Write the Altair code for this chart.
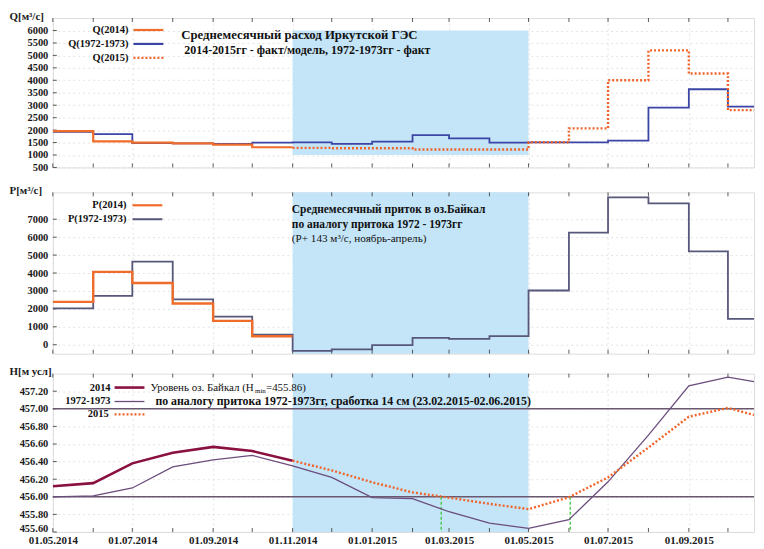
import altair as alt
import pandas as pd

FONT = "Liberation Serif"
W = 704
H1, H2, H3 = 150, 162, 159

# ---------------- data ----------------
x_start = "2014-05-01"
x_end = "2015-10-21"
band_start = "2014-11-01"
band_end = "2015-05-01"

months_all = ["2014-05-01", "2014-06-01", "2014-07-01", "2014-08-01", "2014-09-01", "2014-10-01",
              "2014-11-01", "2014-12-01", "2015-01-01", "2015-02-01", "2015-03-01", "2015-04-01",
              "2015-05-01", "2015-06-01", "2015-07-01", "2015-08-01", "2015-09-01", "2015-10-01"]
label_dates = ["2014-05-01", "2014-07-01", "2014-09-01", "2014-11-01", "2015-01-01",
               "2015-03-01", "2015-05-01", "2015-07-01", "2015-09-01"]

# Q: monthly mean discharge (step values, last entry closes the last step)
q2014_dates = ["2014-05-01", "2014-06-01", "2014-07-01", "2014-08-01", "2014-09-01", "2014-10-01", "2014-11-01"]
q2014_vals = [1960, 1550, 1500, 1470, 1420, 1310, 1310]
q7273_dates = months_all + [x_end]
q7273_vals = [1930, 1840, 1480, 1470, 1450, 1500, 1510, 1445, 1535, 1800, 1670, 1500,
              1510, 1510, 1575, 2900, 3640, 2940, 2940]
q2015_dates = months_all[6:] + [x_end]
q2015_vals = [1285, 1270, 1270, 1220, 1220, 1220, 1510, 2070, 4000, 5200, 4270, 2800, 2800]

# P: monthly mean inflow
p2014_dates = ["2014-05-01", "2014-06-01", "2014-07-01", "2014-08-01", "2014-09-01", "2014-10-01", "2014-11-01"]
p2014_vals = [2390, 4065, 3445, 2300, 1330, 475, 475]
p7273_dates = months_all + [x_end]
p7273_vals = [2025, 2720, 4630, 2530, 1570, 565, -345, -255, -20, 380, 330, 475,
              3025, 6250, 8220, 7890, 5210, 1440, 1440]

# H: lake level
h2014_dates = ["2014-05-01", "2014-06-01", "2014-07-01", "2014-08-01", "2014-09-01", "2014-10-01", "2014-11-01"]
h2014_vals = [456.12, 456.155, 456.38, 456.50, 456.567, 456.52, 456.41]
h7273_dates = months_all + [x_end]
h7273_vals = [456.00, 456.01, 456.10, 456.34, 456.42, 456.47, 456.35, 456.22, 455.99, 455.98,
              455.83, 455.70, 455.64, 455.74, 456.17, 456.70, 457.26, 457.36, 457.31]
h2015_dates = months_all[6:] + [x_end]
h2015_vals = [456.41, 456.30, 456.165, 456.05, 455.99, 455.92, 455.86, 455.995, 456.22,
              456.56, 456.91, 457.01, 456.93]
h_ref_lines = [456.0, 457.0]
green_dates = ["2015-02-23", "2015-06-02"]

q_ticks = [500, 1000, 1500, 2000, 2500, 3000, 3500, 4000, 4500, 5000, 5500, 6000]
p_ticks = [0, 1000, 2000, 3000, 4000, 5000, 6000, 7000]
h_ticks = [455.6, 455.8, 456.0, 456.2, 456.4, 456.6, 456.8, 457.0, 457.2]

# colours
C_BAND = "#c4e4f7"
C_ORANGE = "#ef6c2a"
C_BLUE = "#3b45a5"
C_DOT = "#f0642a"
C_GRAYP = "#57577c"
C_MAROON = "#8a1040"
C_PURP = "#6b4d7d"
C_HLINE = "#6a5870"
C_GREEN = "#3cc83c"


def ms(d):
    return int(pd.Timestamp(d, tz="UTC").value // 10**6)


xscale = alt.Scale(type="utc", domain=[ms(x_start), ms(x_end)], nice=False)
dummy = pd.DataFrame({"k": [0]})


def xaxis(labels):
    return alt.Axis(values=[ms(d) for d in label_dates], labels=labels, format="%d.%m.%Y",
                    ticks=False, domain=False, grid=True, gridColor="#d6d6d6",
                    gridDash=[2, 3], gridWidth=0.7, labelFont=FONT, labelFontSize=11,
                    labelFontWeight="bold", labelColor="#1a1a1a", labelPadding=3,
                    labelFlush=False, labelOverlap=False, title=None)


def yaxis(title, values, fmt, low):
    return alt.Axis(values=values, format=fmt, title=title, titleAngle=0, titleAlign="left",
                    titleBaseline="alphabetic", titleX=-44, titleY=1, titleFont=FONT,
                    titleFontSize=11, titleFontWeight="bold", titleColor="#1a1a1a",
                    labelFont=FONT, labelFontSize=10.5, labelFontWeight="bold",
                    labelColor="#1a1a1a", labelPadding=5, labelOverlap=False, labelFlush=False,
                    labelBaseline={"condition": {"test": f"datum.value <= {low}", "value": "alphabetic"},
                                   "value": "middle"},
                    ticks=False, domain=False, grid=True, gridColor="#d6d6d6",
                    gridDash=[2, 3], gridWidth=0.7)


def make_xy(labels, ytitle, yvals, ydomain, fmt, low):
    ax = xaxis(labels)
    ay = yaxis(ytitle, yvals, fmt, low)
    ys = alt.Scale(domain=ydomain, nice=False, zero=False)

    def X(f="date"):
        return alt.X(f + ":T", scale=xscale, axis=ax)

    def Y(f="v"):
        return alt.Y(f + ":Q", scale=ys, axis=ay)

    return X, Y


def series(X, Y, dates, vals, color, width, dash=None, interp="step-after"):
    df = pd.DataFrame({"date": dates, "v": vals})
    kw = dict(color=color, strokeWidth=width, interpolate=interp, clip=True)
    if dash:
        kw["strokeDash"] = dash
    return alt.Chart(df).mark_line(**kw).encode(x=X(), y=Y())


def text(s, x, y, size=11, weight="bold", align="left"):
    return alt.Chart(dummy).mark_text(text=s, font=FONT, fontSize=size, fontWeight=weight,
                                      align=align, baseline="middle", color="#111").encode(
        x=alt.value(x), y=alt.value(y))


def label(s, x, y):
    return text(s, x, y, size=10.5, align="right")


def sample(x1, x2, y, color, width, dash=None):
    kw = dict(color=color, strokeWidth=width)
    if dash:
        kw["strokeDash"] = dash
    return alt.Chart(dummy).mark_rule(**kw).encode(x=alt.value(x1), x2=alt.value(x2), y=alt.value(y))


def tick_layers(X, Y, h, yvals):
    tdf = pd.DataFrame({"date": months_all})
    ydf = pd.DataFrame({"v": yvals})
    bot = alt.Chart(tdf).mark_rule(color="#333", strokeWidth=0.8).encode(
        x=X(), y=alt.value(h), y2=alt.value(h - 4))
    top = alt.Chart(tdf).mark_rule(color="#333", strokeWidth=0.8).encode(
        x=X(), y=alt.value(0), y2=alt.value(4))
    left = alt.Chart(ydf).mark_rule(color="#333", strokeWidth=0.8).encode(
        y=Y(), x=alt.value(0), x2=alt.value(4))
    return [bot, top, left]


# ---------------- panel 1 : Q ----------------
X1, Y1 = make_xy(False, "Q[м³/с]", q_ticks, [500, 6500], "d", 0)
band1 = alt.Chart(pd.DataFrame({"s": [band_start], "e": [band_end], "y1": [1000], "y2": [6000]})).mark_rect(
    color=C_BAND).encode(x=X1("s"), x2="e:T", y=Y1("y1"), y2="y2:Q")
p1 = alt.layer(
    band1,
    *tick_layers(X1, Y1, H1, q_ticks),
    series(X1, Y1, q7273_dates, q7273_vals, C_BLUE, 1.8),
    series(X1, Y1, q2014_dates, q2014_vals, C_ORANGE, 2.2),
    series(X1, Y1, q2015_dates, q2015_vals, C_DOT, 2.4, dash=[2, 2]),
    label("Q(2014)", 76, 12), label("Q(1972-1973)", 76, 26), label("Q(2015)", 76, 40),
    sample(81, 111, 12, C_ORANGE, 2.2), sample(81, 111, 26, C_BLUE, 2.2),
    sample(81, 111, 40, C_DOT, 2.2, [2, 2]),
    text("Среднемесячный расход Иркутской ГЭС", 129, 17, size=12.8),
    text("2014-2015гг - факт/модель, 1972-1973гг - факт", 132, 32, size=12),
).properties(width=W, height=H1)

# ---------------- panel 2 : P ----------------
X2, Y2 = make_xy(False, "P[м³/с]", p_ticks, [-500, 8500], "d", -1000)
band2 = alt.Chart(pd.DataFrame({"s": [band_start], "e": [band_end]})).mark_rect(
    color=C_BAND).encode(x=X2("s"), x2="e:T", y=alt.value(0), y2=alt.value(H2))
p2 = alt.layer(
    band2,
    *tick_layers(X2, Y2, H2, p_ticks),
    series(X2, Y2, p7273_dates, p7273_vals, C_GRAYP, 1.8),
    series(X2, Y2, p2014_dates, p2014_vals, C_ORANGE, 2.4),
    label("P(2014)", 74, 13), label("P(1972-1973)", 74, 27),
    sample(80, 110, 13, C_ORANGE, 2.2), sample(80, 110, 27, C_GRAYP, 2.0),
    text("Среднемесячный приток в оз.Байкал", 240, 18, size=11.5),
    text(" по аналогу притока 1972 - 1973гг", 240, 33, size=11.5),
    text("(P+ 143 м³/с, ноябрь-апрель)", 240, 47, size=11.2, weight="normal"),
).properties(width=W, height=H2)

# ---------------- panel 3 : H ----------------
X3, Y3 = make_xy(True, "H[м усл]", h_ticks, [455.6, 457.4], ".2f", 455.61)
band3 = alt.Chart(pd.DataFrame({"s": [band_start], "e": [band_end]})).mark_rect(
    color=C_BAND).encode(x=X3("s"), x2="e:T", y=alt.value(0), y2=alt.value(H3))
hl = alt.Chart(pd.DataFrame({"v": h_ref_lines})).mark_rule(color=C_HLINE, strokeWidth=1.6).encode(y=Y3())
gl = alt.Chart(pd.DataFrame({"date": green_dates, "v": [456.0, 456.0], "v0": [455.6, 455.6]})).mark_rule(
    color=C_GREEN, strokeWidth=1.3, strokeDash=[3, 2]).encode(x=X3(), y=Y3(), y2="v0:Q")
p3 = alt.layer(
    band3,
    *tick_layers(X3, Y3, H3, h_ticks),
    hl, gl,
    series(X3, Y3, h7273_dates, h7273_vals, C_PURP, 1.3, interp="linear"),
    series(X3, Y3, h2014_dates, h2014_vals, C_MAROON, 2.6, interp="linear"),
    series(X3, Y3, h2015_dates, h2015_vals, C_DOT, 2.4, dash=[2, 2], interp="linear"),
    label("2014", 58, 14), label("1972-1973", 58, 28), label("2015", 56, 41),
    sample(62, 92, 14, C_MAROON, 2.6), sample(62, 92, 28, C_PURP, 1.3),
    sample(62, 92, 41, C_DOT, 2.2, [2, 2]),
    text("Уровень оз. Байкал (H", 98, 14, size=11, weight="normal"),
    text("min", 203, 17, size=7, weight="normal"),
    text("=455.86)", 214, 14, size=11, weight="normal"),
    text("по аналогу притока 1972-1973гг,  сработка 14 см (23.02.2015-02.06.2015)", 103, 28, size=11.9),
).properties(width=W, height=H3)

chart = alt.vconcat(p1, p2, p3, spacing=10).properties(
    padding={"left": 0, "top": 0, "right": 0, "bottom": 0}
).configure_view(stroke="#333", strokeWidth=1).configure(background="white")

chart.save("out.html", embed_options={"renderer": "svg", "actions": False})
